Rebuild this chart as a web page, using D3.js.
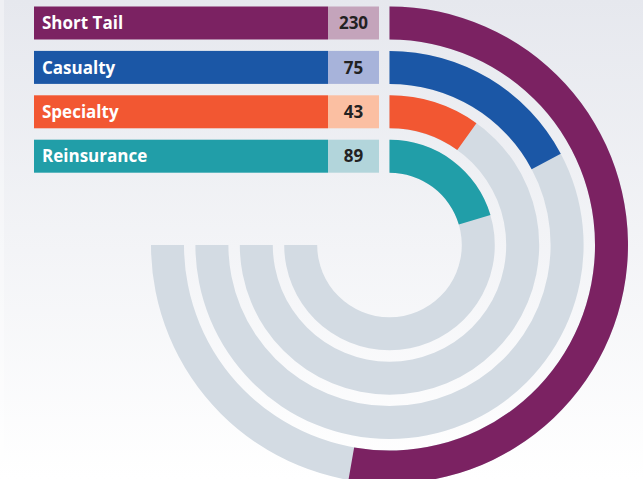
<!DOCTYPE html>
<html>
<head>
<meta charset="utf-8">
<script src="https://cdn.jsdelivr.net/npm/d3@7"></script>
<style>
html,body{margin:0;padding:0;overflow:hidden;}
svg{display:block;}
</style>
</head>
<body>
<svg id="chart" width="643" height="479"></svg>
<script>
const categories = ["Short Tail", "Casualty", "Specialty", "Reinsurance"];
const values = [230, 75, 43, 89];
const colors = ["#7b2262", "#1b57a6", "#f25732", "#219ea8"];
const lightColors = ["#c4a4bb", "#a7b3da", "#fbbfa2", "#b2d5db"];
const scaleMax = 327;

const W = 643, H = 479;
const svg = d3.select("#chart");
const defs = svg.append("defs");
const grad = defs.append("linearGradient").attr("id", "bg").attr("x1", 0).attr("y1", 0).attr("x2", 0).attr("y2", 1);
grad.append("stop").attr("offset", "0%").attr("stop-color", "#e6e8ee");
grad.append("stop").attr("offset", "100%").attr("stop-color", "#ffffff");
svg.append("rect").attr("width", W).attr("height", H).attr("fill", "url(#bg)");
svg.append("rect").attr("width", 4).attr("height", H).attr("fill", "#ffffff").attr("opacity", 0.35);

const cx = 389.5, cy = 245;
const outerR = 238.5;
const band = d3.scaleBand().domain(categories).range([0, 166.2]).paddingInner(0.257);
const rOuter = c => outerR - band(c);
const rInner = c => outerR - band(c) - band.bandwidth();

const angle = d3.scaleLinear().domain([0, scaleMax]).range([0, 1.5 * Math.PI]);

const g = svg.append("g").attr("transform", `translate(${cx},${cy})`);
const arc = d3.arc();

// background tracks (270°)
g.selectAll("path.track").data(categories).join("path")
  .attr("class", "track")
  .attr("fill", "#d3dbe3")
  .attr("d", c => arc({innerRadius: rInner(c), outerRadius: rOuter(c), startAngle: 0, endAngle: 1.5 * Math.PI}));

// value arcs
g.selectAll("path.val").data(categories).join("path")
  .attr("class", "val")
  .attr("fill", (c, i) => colors[i])
  .attr("d", (c, i) => arc({innerRadius: rInner(c), outerRadius: rOuter(c), startAngle: 0, endAngle: angle(values[i])}));

// legend rows aligned with bands
const legX = 34, legW = 294, boxW = 51;
const rowH = band.bandwidth();
const rows = svg.selectAll("g.row").data(categories).join("g")
  .attr("class", "row")
  .attr("transform", c => `translate(0,${cy - rOuter(c)})`);

rows.append("rect").attr("x", legX).attr("y", 0).attr("width", legW).attr("height", rowH)
  .attr("fill", (c, i) => colors[i]);
rows.append("rect").attr("x", legX + legW).attr("y", 0).attr("width", boxW).attr("height", rowH)
  .attr("fill", (c, i) => lightColors[i]);
rows.append("text").attr("x", legX + 8).attr("y", rowH / 2).attr("dy", "0.36em")
  .attr("fill", "#ffffff").attr("font-family", "'Open Sans', sans-serif").attr("font-weight", 700)
  .attr("font-size", 17).text(c => c);
rows.append("text").attr("x", legX + legW + boxW / 2).attr("y", rowH / 2).attr("dy", "0.36em")
  .attr("text-anchor", "middle")
  .attr("fill", "#222222").attr("font-family", "'Open Sans', sans-serif").attr("font-weight", 700)
  .attr("font-size", 17).text((c, i) => values[i]);
</script>
</body>
</html>
